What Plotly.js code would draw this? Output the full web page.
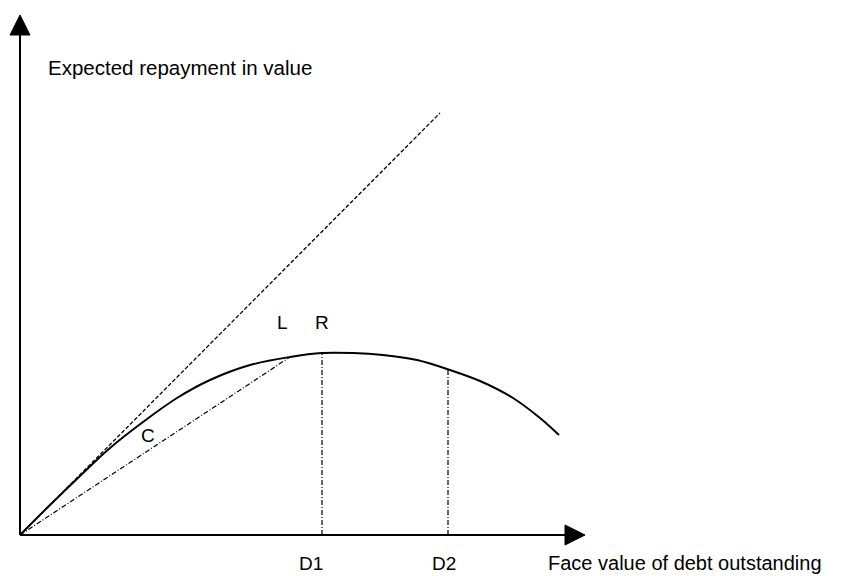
<!DOCTYPE html>
<html>
<head>
<meta charset="utf-8">
<script src="https://cdn.plot.ly/plotly-3.0.1.min.js"></script>
<style>html,body{margin:0;padding:0;background:#fff;}#chart{width:842px;height:576px;}</style>
</head>
<body>
<div id="chart"></div>
<script>
// Repayment curve (face value of debt vs expected repayment), in chart units
var curveX = [0, 30, 60, 90, 123, 157, 190, 230, 270, 302, 333, 363, 397, 430, 460, 493, 520, 539];
var curveY = [0, 30, 59, 87, 113, 137, 155, 170, 178, 182, 182, 180, 175, 165, 154, 137, 117, 100];
// 45-degree line
var diagX = [0, 420];
var diagY = [0, 422];
// chord from origin to L
var chordX = [0, 270];
var chordY = [0, 178];
// D1 and D2 positions with curve heights
var dX = [302, 428];
var dY = [182, 165];
var dLabels = ["D1", "D2"];
var dLabelX = [277, 410];
var pointLabels = ["L", "R", "C"];
var pointX = [262, 302, 128];
var pointY = [213, 213, 100];

var fontFam = "Liberation Sans, Arial, sans-serif";
var traces = [];
traces.push({x: diagX, y: diagY, mode: 'lines', line: {color: '#000', width: 1.3, dash: '4px,2px'}, hoverinfo: 'skip'});
traces.push({x: chordX, y: chordY, mode: 'lines', line: {color: '#000', width: 1.2, dash: '5px,2px,1px,2px'}, hoverinfo: 'skip'});
for (var i = 0; i < dX.length; i++) {
  traces.push({x: [dX[i], dX[i]], y: [0, dY[i]], mode: 'lines', line: {color: '#000', width: 1.2, dash: '5px,2px,1px,2px'}, hoverinfo: 'skip'});
}
traces.push({x: curveX, y: curveY, mode: 'lines', line: {color: '#000', width: 2, shape: 'spline', smoothing: 1}, hoverinfo: 'skip'});

var annotations = [];
for (var j = 0; j < dX.length; j++) {
  annotations.push({x: dLabelX[j], y: -28.5, text: dLabels[j], showarrow: false, xanchor: 'left', xref: 'x', yref: 'y', font: {family: fontFam, size: 19, color: '#000'}});
}
for (var k = 0; k < pointLabels.length; k++) {
  annotations.push({x: pointX[k], y: pointY[k], text: pointLabels[k], showarrow: false, xref: 'x', yref: 'y', font: {family: fontFam, size: 19, color: '#000'}});
}
annotations.push({x: 26, y: 468, text: 'Expected repayment in value', showarrow: false, xanchor: 'left', xref: 'x', yref: 'y', font: {family: fontFam, size: 20.5, color: '#000'}});
annotations.push({x: 526, y: -28, text: 'Face value of debt outstanding', showarrow: false, xanchor: 'left', xref: 'x', yref: 'y', font: {family: fontFam, size: 20, color: '#000'}});

var shapes = [
  {type: 'line', xref: 'x', yref: 'y', x0: 0, y0: 0, x1: 0, y1: 500, line: {color: '#000', width: 2}},
  {type: 'line', xref: 'x', yref: 'y', x0: 0, y0: 0, x1: 547, y1: 0, line: {color: '#000', width: 2}},
  {type: 'path', xref: 'x', yref: 'y', path: 'M -10,500 L 10,500 L 0,520 Z', fillcolor: '#000', line: {color: '#000', width: 1}},
  {type: 'path', xref: 'x', yref: 'y', path: 'M 545,10 L 545,-10 L 565,0 Z', fillcolor: '#000', line: {color: '#000', width: 1}}
];

var layout = {
  width: 842, height: 576,
  margin: {l: 0, r: 0, t: 0, b: 0},
  paper_bgcolor: '#fff', plot_bgcolor: '#fff',
  showlegend: false,
  xaxis: {range: [-20, 822], visible: false, fixedrange: true},
  yaxis: {range: [-41, 535], visible: false, fixedrange: true},
  shapes: shapes,
  annotations: annotations
};
Plotly.newPlot('chart', traces, layout, {displayModeBar: false, staticPlot: true});
</script>
</body>
</html>
